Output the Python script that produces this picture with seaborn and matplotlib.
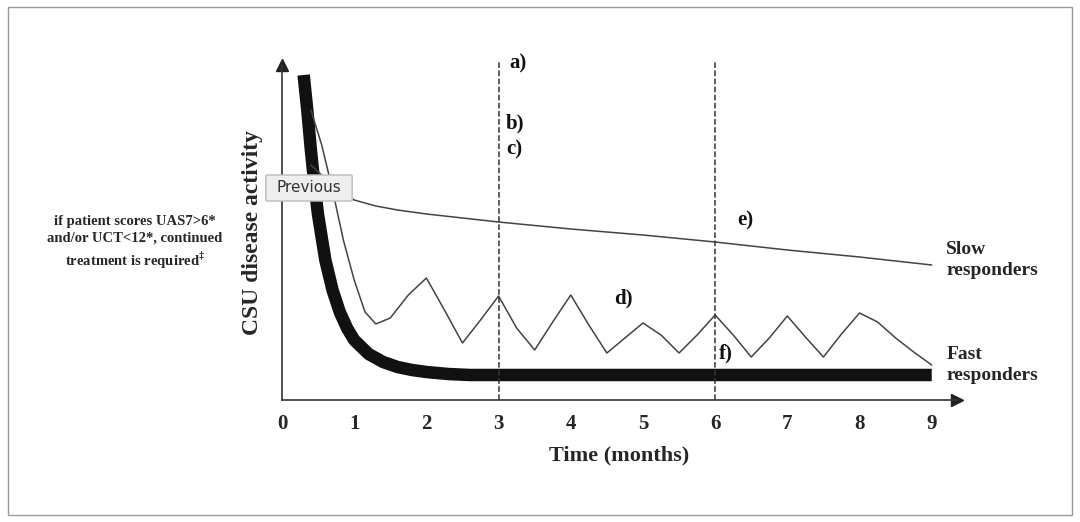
import numpy as np
import matplotlib.pyplot as plt
import seaborn as sns
from matplotlib.patches import Rectangle, FancyBboxPatch

# values (y = height above the x axis, pixel-ish units)
fast_x = [0.3, 0.35, 0.4, 0.45, 0.5, 0.6, 0.7, 0.8, 0.9, 1.0, 1.2, 1.4, 1.6, 1.8, 2.0, 2.3, 2.6, 9.0]
fast_y = [325, 290, 250, 215, 185, 140, 110, 88, 72, 60, 46, 38, 33, 30, 28, 26, 25, 25]

wave_x = [0.4, 0.55, 0.7, 0.85, 1.0, 1.15, 1.3, 1.5, 1.75, 2.0, 2.25, 2.5, 2.75, 3.0, 3.25, 3.5,
          3.75, 4.0, 4.25, 4.5, 4.75, 5.0, 5.25, 5.5, 5.75, 6.0, 6.25, 6.5, 6.75, 7.0, 7.25,
          7.5, 7.75, 8.0, 8.25, 8.5, 8.75, 9.0]
wave_y = [290, 255, 210, 160, 120, 88, 76, 82, 105, 122, 90, 57, 80, 104, 72, 50,
          78, 105, 75, 47, 62, 77, 65, 47, 65, 85, 65, 43, 62, 84, 63,
          43, 66, 87, 78, 62, 48, 35]

slow_x = [0.4, 0.55, 0.7, 0.85, 1.0, 1.3, 1.6, 2.0, 3.0, 4.0, 5.0, 6.0, 7.0, 8.0, 9.0]
slow_y = [235, 225, 215, 207, 200, 194, 190, 186, 178, 171, 165, 158, 150, 143, 135]

months = list(range(10))
markers = [3, 6]

sns.set_style("white")
plt.rcParams['font.family'] = ['Liberation Serif', 'DejaVu Serif']

fig = plt.figure(figsize=(10.8, 5.22), dpi=100)
fig.patches.append(Rectangle((8/1080, 7/522), 1064/1080, 508/522, transform=fig.transFigure,
                             fill=False, edgecolor='#999999', lw=1))

ax = fig.add_axes([282/1080, 122/522, 675/1080, 335/522])
ax.set_xlim(0, 9.35)
ax.set_ylim(0, 335)
for s in ['top', 'right']:
    ax.spines[s].set_visible(False)
for s in ['left', 'bottom']:
    ax.spines[s].set_color('#333333')
    ax.spines[s].set_linewidth(1.2)
ax.plot(1, 0, '>', color='#222222', ms=9, transform=ax.transAxes, clip_on=False)
ax.plot(0, 1, '^', color='#222222', ms=9, transform=ax.transAxes, clip_on=False)

sns.lineplot(x=fast_x, y=fast_y, ax=ax, color='#111111', lw=9, solid_capstyle='butt')
sns.lineplot(x=wave_x, y=wave_y, ax=ax, color='#444444', lw=1.1)
sns.lineplot(x=slow_x, y=slow_y, ax=ax, color='#444444', lw=1.1)
for m in markers:
    ax.plot([m, m], [0, 340], ls='--', color='#333333', lw=1.1, clip_on=False)

ax.set_xticks(months)
ax.set_xticklabels([str(m) for m in months], fontsize=15, fontweight='bold')
ax.tick_params(axis='x', length=0, pad=10)
ax.set_yticks([])
ax.set_xlabel('Time (months)', fontsize=16, fontweight='bold', labelpad=8)
ax.set_ylabel('CSU disease activity', fontsize=17, fontweight='bold', labelpad=14)

txt = dict(fontsize=15, fontweight='bold', color='#111111')
ax.text(3.15, 332, 'a)', **txt)
ax.text(3.1, 272, 'b)', **txt)
ax.text(3.1, 246, 'c)', **txt)
ax.text(6.3, 175, 'e)', **txt)
ax.text(4.6, 97, 'd)', **txt)
ax.text(6.05, 42, 'f)', **txt)
ax.text(9.2, 140, 'Slow\nresponders', fontsize=14, fontweight='bold', va='center', linespacing=1.3)
ax.text(9.2, 35, 'Fast\nresponders', fontsize=14, fontweight='bold', va='center', linespacing=1.3)

fig.text(135/1080, 1 - 243/522,
         'if patient scores UAS7>6*\nand/or UCT<12*, continued\ntreatment is required$^{\u2021}$',
         ha='center', va='center', fontsize=10.5, fontweight='bold', linespacing=1.3)

fig.patches.append(FancyBboxPatch((268/1080, 1 - 200/522), 82/1080, 24/522, transform=fig.transFigure,
                                  boxstyle='round,pad=0.002', facecolor='#eeeeee', edgecolor='#bbbbbb'))
fig.text(309/1080, 1 - 188/522, 'Previous', ha='center', va='center', fontsize=11,
         family='DejaVu Sans', color='#333333')

fig.savefig('out.png', dpi=100)
